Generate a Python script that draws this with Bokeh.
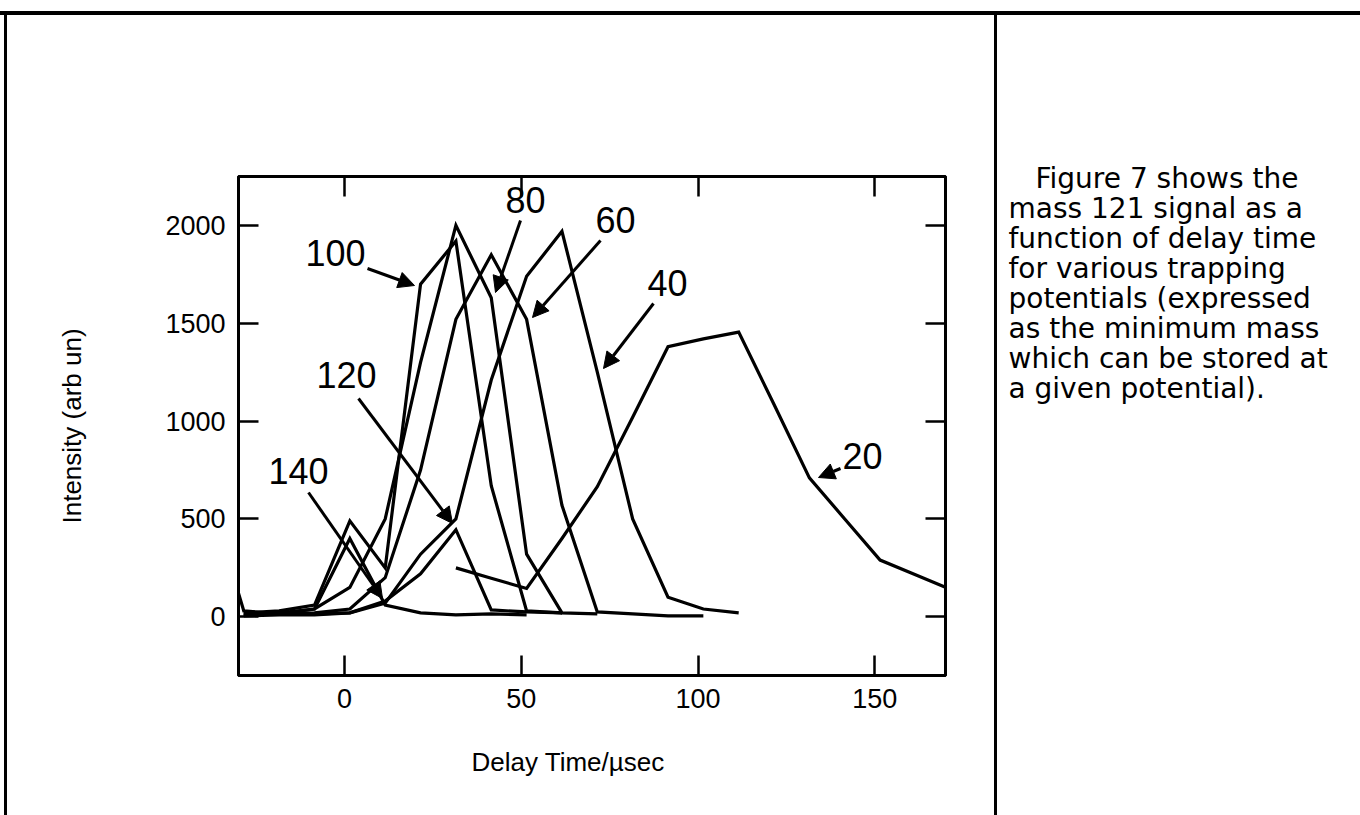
import math
from bokeh.plotting import figure
from bokeh.layouts import row, column
from bokeh.models import (Range1d, LinearAxis, FixedTicker, Label, Arrow, NormalHead, Title, Div,
                          ColumnDataSource)
from bokeh.core.properties import value
from bokeh.embed import file_html
from bokeh.resources import INLINE

# ---------------- data ----------------
delay_140 = [-30, -28.5, -18.5, -8.5, 1.5, 11.5, 21.5, 31.5, 41.5, 51.5]
int_140 = [120, 30, 15, 40, 400, 60, 20, 10, 15, 10]

delay_120 = [-28.5, -18.5, -8.5, 1.5, 11.5, 21.5, 31.5, 41.5, 51.5, 61.5]
int_120 = [10, 20, 15, 20, 80, 220, 445, 35, 25, 20]

delay_100 = [-28.5, -18.5, -8.5, 1.5, 11.5, 21.5, 31.5, 41.5, 51.5, 61.5]
int_100 = [20, 30, 60, 490, 250, 1700, 1920, 670, 30, 20]

delay_80 = [-28.5, -18.5, -8.5, 1.5, 11.5, 21.5, 31.5, 41.5, 51.5, 61.5, 71.5]
int_80 = [10, 20, 40, 150, 500, 1300, 2000, 1630, 320, 20, 15]

delay_60 = [-28.5, -18.5, -8.5, 1.5, 11.5, 21.5, 31.5, 41.5, 51.5, 61.5, 71.5, 81.5, 91.5, 101.5]
int_60 = [10, 15, 20, 40, 200, 750, 1520, 1850, 1520, 570, 25, 15, 5, 5]

delay_40 = [-28.5, -18.5, -8.5, 1.5, 11.5, 21.5, 31.5, 41.5, 51.5, 61.5, 71.5, 81.5, 91.5, 101.5, 111.5]
int_40 = [5, 10, 10, 20, 70, 320, 500, 1210, 1740, 1970, 1250, 500, 100, 40, 20]

delay_20 = [31.5, 41.5, 51.5, 61.5, 71.5, 81.5, 91.5, 101.5, 111.5, 121.5, 131.5, 141.5, 151.5, 161.5, 171.5]
int_20 = [250, 197, 145, 400, 665, 1020, 1380, 1420, 1455, 1085, 710, 500, 290, 215, 140]

x_ticks = [0, 50, 100, 150]
y_ticks = [0, 500, 1000, 1500, 2000]

series = [("140", delay_140, int_140), ("120", delay_120, int_120), ("100", delay_100, int_100),
          ("80", delay_80, int_80), ("60", delay_60, int_60), ("40", delay_40, int_40), ("20", delay_20, int_20)]

caption = ["Figure 7 shows the", "mass 121 signal as a", "function of delay time",
           "for various trapping", "potentials (expressed", "as the minimum mass",
           "which can be stored at", "a given potential)."]

x_title = "Delay Time/\u00b5sec"
y_title = "Intensity (arb un)"

# ---------------- page geometry ----------------
TOP_GAP, TOP_LINE = 11, 4          # top rule of the page
LEFT_GAP, LEFT_LINE = 4, 3         # left rule of the page
CHART_W = 987                      # chart panel width
MID_LINE = 3                       # divider rule
PANEL_H = 815 - TOP_GAP - TOP_LINE
CAP_W = 1360 - LEFT_GAP - LEFT_LINE - CHART_W - MID_LINE

OX = LEFT_GAP + LEFT_LINE          # page x of chart panel
OY = TOP_GAP + TOP_LINE            # page y of chart panel
FL, FR, FT, FB = 238, 945, 176, 675   # frame on the page
X0, X1, Y0, Y1 = -30, 170, -300, 2250

def dx(px):
    return X0 + (px - FL) * (X1 - X0) / (FR - FL)

def dy(py):
    return Y0 + (FB - py) * (Y1 - Y0) / (FB - FT)

p = figure(width=CHART_W, height=PANEL_H, x_range=Range1d(X0, X1), y_range=Range1d(Y0, Y1),
           output_backend="svg", toolbar_location=None,
           min_border_left=FL - OX, min_border_right=OX + CHART_W - FR,
           min_border_top=FT - OY, min_border_bottom=OY + PANEL_H - FB)
p.frame_align = False
p.grid.visible = False
p.outline_line_color = "black"
p.outline_line_width = 3
p.background_fill_color = "white"
p.border_fill_color = "white"

top = LinearAxis()
right = LinearAxis()
p.add_layout(top, "above")
p.add_layout(right, "right")

for ax in p.xaxis:
    ax.ticker = FixedTicker(ticks=x_ticks)
for ax in p.yaxis:
    ax.ticker = FixedTicker(ticks=y_ticks)
for ax in p.xaxis + p.yaxis:
    ax.axis_line_color = "black"
    ax.axis_line_width = 3
    ax.major_tick_in = 20
    ax.major_tick_out = 0
    ax.major_tick_line_width = 2.5
    ax.major_tick_line_color = "black"
    ax.minor_tick_line_color = None
    ax.major_label_text_font = "Liberation Sans"
    ax.major_label_text_font_size = "27px"
    ax.major_label_text_color = "black"
    ax.major_label_standoff = 13
for ax in (top, right):
    ax.major_label_text_font_size = "0px"
    ax.major_label_text_color = None
    ax.major_label_standoff = 0

p.yaxis[0].axis_label = y_title
p.yaxis[0].axis_label_text_font = "Liberation Sans"
p.yaxis[0].axis_label_text_font_size = "26px"
p.yaxis[0].axis_label_text_font_style = "normal"
p.yaxis[0].axis_label_text_color = "black"
p.yaxis[0].axis_label_standoff = 75

p.add_layout(Title(text=x_title, align="left", offset=471 - FL, standoff=68,
                   text_font="Liberation Sans", text_font_size="26px", text_font_style="normal",
                   text_color="black"), "below")

for name, xs, ys in series:
    p.line(xs, ys, line_color="black", line_width=3.2, line_join="miter")

# curve labels and arrows (page-pixel placement)
labels = [
    ("100", 335, 252, (367, 268), (414, 285)),
    ("80", 525, 199, (520, 220), (495, 292)),
    ("60", 615, 219, (600, 240), (532, 317)),
    ("40", 667, 282, (653, 303), (603, 368)),
    ("120", 346, 374, (358, 398), (452, 523)),
    ("140", 298, 470, (308, 492), (382, 598)),
    ("20", 862, 455, (840, 468), (818, 477)),
]
for txt, lx, ly, a0, a1 in labels:
    p.add_layout(Label(x=dx(lx), y=dy(ly), text=txt, text_align="center", text_baseline="middle",
                       text_font="Liberation Sans", text_font_size="36px", text_color="black"))
    p.add_layout(Arrow(x_start=dx(a0[0]), y_start=dy(a0[1]), x_end=dx(a1[0]), y_end=dy(a1[1]),
                       line_width=3, line_color="black",
                       end=NormalHead(size=16, fill_color="black", line_color="black", line_width=1)))

# ---------------- caption panel ----------------
c = figure(width=CAP_W, height=PANEL_H, x_range=Range1d(0, CAP_W), y_range=Range1d(PANEL_H, 0),
           output_backend="svg", toolbar_location=None, min_border=0,
           x_axis_type=None, y_axis_type=None)
c.frame_align = False
c.grid.visible = False
c.outline_line_color = None
c.background_fill_color = "white"
c.border_fill_color = "white"
cap_x0 = OX + CHART_W + MID_LINE
cap_src = ColumnDataSource(dict(
    x=[(1035 if i == 0 else 1008) - cap_x0 for i in range(len(caption))],
    y=[178 + 30 * i - OY for i in range(len(caption))],
    t=caption))
c.text(x="x", y="y", text="t", source=cap_src, text_font=value("DejaVu Sans"),
       text_font_size="28px", text_baseline="alphabetic", text_align="left", text_color="black")

# ---------------- page rules ----------------
def rule(w, h, color):
    return Div(width=w, height=h, styles={"background-color": color}, margin=0)

layout = column(
    rule(1360, TOP_GAP, "white"),
    rule(1360, TOP_LINE, "black"),
    row(rule(LEFT_GAP, PANEL_H, "white"), rule(LEFT_LINE, PANEL_H, "black"), p,
        rule(MID_LINE, PANEL_H, "black"), c, spacing=0),
    spacing=0)

open("out.html", "w").write(file_html(layout, INLINE))
